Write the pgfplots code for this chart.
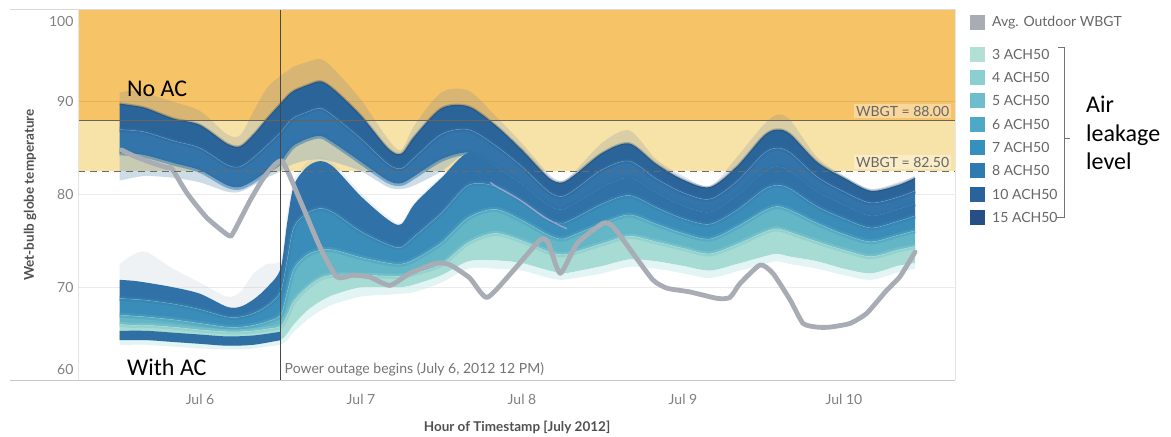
\documentclass[border=0pt]{standalone}
\usepackage{pgfplots}
\pgfplotsset{compat=1.18}
\usepackage{pgfplotstable}
\usepgfplotslibrary{fillbetween}
\usepackage{fontspec}
\setmainfont{Lato}
\newfontfamily\calib{Carlito}

\definecolor{bandorange}{HTML}{F6C367}
\definecolor{bandyellow}{HTML}{F7E2A8}
\definecolor{avggray}{HTML}{A8ACB4}
\definecolor{cA}{HTML}{B3E0D6}
\definecolor{cB}{HTML}{8CCFD0}
\definecolor{cC}{HTML}{6DBDCC}
\definecolor{cD}{HTML}{4EA9C6}
\definecolor{cE}{HTML}{3690BD}
\definecolor{cF}{HTML}{2D7BB0}
\definecolor{cG}{HTML}{2A639C}
\definecolor{cH}{HTML}{254F85}
\definecolor{txtgray}{HTML}{808080}
\definecolor{ttlgray}{HTML}{505050}
\definecolor{nfaint}{HTML}{6F87A0}
\definecolor{ndark}{HTML}{2A6499}
\definecolor{nmed}{HTML}{3374AA}
\definecolor{nlow}{HTML}{7FA9C4}
\definecolor{afaint}{HTML}{A9B6C4}
\definecolor{adark}{HTML}{3072A8}
\definecolor{amed}{HTML}{3A8DB9}
\definecolor{ateal}{HTML}{62B6C6}
\definecolor{alight}{HTML}{A6DCD3}
\definecolor{afringe}{HTML}{CFEDEB}
\definecolor{stripe}{HTML}{2F6FA3}
\definecolor{lav}{HTML}{A4A6D0}
\definecolor{line88}{HTML}{6B6358}

% No AC group (upper ensemble); x = hours since Jul 5, 00:00
\pgfplotstableread{
h t0 t1 m b b0
12 91.0 89.8 87.0 84.5 81.5
14 91.2 89.6 86.9 84.4 81.8
16 90.9 89.3 86.7 84.2 82.0
20 90.0 88.2 85.8 83.4 81.8
24 89.0 87.5 85.0 82.6 81.3
28 86.5 85.5 83.2 81.0 80.3
30 86.4 85.2 83.0 80.8 80.3
32 89.0 86.5 84.0 81.5 81.0
34 91.5 88.2 85.3 82.5 81.8
36 92.8 89.8 86.7 83.5 82.5
37 93.3 90.6 87.6 84.5 83.0
38 93.8 91.2 88.3 85.3 83.3
40 94.3 91.8 88.9 86.0 83.7
42 94.6 92.2 89.3 86.3 83.8
44 93.5 91.3 88.4 85.5 83.5
48 90.2 88.5 86.0 83.5 82.5
52 86.0 85.0 83.3 81.5 80.8
54 84.8 84.4 82.8 81.2 80.6
56 87.5 86.3 84.0 82.0 81.0
60 91.0 89.3 86.5 83.8 82.5
64 91.2 89.5 87.0 84.5 84.5
68 88.5 87.5 85.3 83.1 83.1
72 85.5 84.8 83.0 81.1 81.1
76 82.2 81.8 80.3 78.8 78.8
78 81.5 81.3 79.8 78.4 78.4
80 82.6 82.2 80.6 79.1 79.1
84 85.6 84.5 82.7 80.8 80.8
88 86.9 85.5 83.6 81.8 81.8
92 83.8 83.3 81.7 80.2 80.2
96 82.0 81.6 80.2 78.8 78.8
100 80.9 80.8 79.5 78.1 78.1
104 84.0 83.0 81.4 79.9 79.9
108 87.5 86.3 84.4 82.4 82.4
110 88.6 87.0 85.0 83.0 83.0
112 88.0 86.5 84.5 82.5 82.5
116 84.0 83.5 81.9 80.3 80.3
120 82.0 81.8 80.3 78.9 78.9
124 80.6 80.4 79.1 77.7 77.7
128 81.3 81.0 79.7 78.4 78.4
130.6 82.0 81.8 80.4 79.0 79.0
}\Ntab

% With AC group (lower ensemble)
\pgfplotstableread{
h t0 t1 d m l b b0
12 72.5 70.8 68.8 67.0 66.0 64.3 63.8
14 73.5 70.7 68.7 66.9 65.9 64.3 63.8
16 73.8 70.5 68.6 66.8 65.9 64.3 63.8
20 72.0 70.0 68.2 66.5 65.7 64.1 63.6
24 70.5 69.3 67.6 66.1 65.4 63.9 63.4
28 69.0 67.9 66.8 65.7 65.2 63.7 63.3
30 69.5 67.9 66.8 65.7 65.2 63.7 63.3
32 71.5 68.7 67.2 65.9 65.3 63.8 63.4
34 72.5 70.0 68.0 66.3 65.5 64.1 63.6
36 73.0 72.0 69.5 67.0 65.8 64.3 63.8
37 78.0 77.0 73.0 69.5 67.0 65.0 64.3
38 81.5 81.0 76.5 72.0 68.5 66.0 65.2
40 83.5 83.0 78.0 73.5 70.0 67.5 66.5
42 84.0 83.6 78.5 74.0 71.0 68.5 67.5
44 83.3 82.9 78.0 74.0 71.3 69.2 68.2
48 80.2 79.8 76.0 73.2 71.3 70.0 69.0
52 77.6 77.3 74.6 72.6 71.2 70.0 69.2
54 77.0 76.8 74.3 72.5 71.2 70.0 69.3
56 79.2 79.0 75.5 73.0 71.5 70.3 69.5
60 82.0 81.8 78.0 74.8 72.5 71.3 70.5
64 84.5 84.5 81.0 77.5 74.8 72.8 72.0
68 83.1 83.1 80.9 78.4 75.8 72.9 72.0
72 81.1 81.1 79.3 77.2 75.0 72.6 71.8
76 78.8 78.8 77.3 75.6 73.8 71.8 71.0
78 78.4 78.4 76.9 75.2 73.5 71.5 70.8
80 79.1 79.1 77.5 75.7 73.8 71.7 71.0
84 80.8 80.8 79.0 76.9 74.7 72.3 71.5
88 81.8 81.8 79.9 77.8 75.5 73.0 72.2
92 80.2 80.2 78.6 76.8 74.9 72.8 72.0
96 78.8 78.8 77.4 75.8 74.2 72.3 71.5
100 78.1 78.1 76.8 75.2 73.6 71.8 71.0
104 79.9 79.9 78.3 76.5 74.6 72.5 71.7
108 82.4 82.4 80.5 78.2 75.9 73.3 72.5
110 83.0 83.0 81.0 78.7 76.3 73.6 72.8
112 82.5 82.5 80.6 78.3 75.9 73.3 72.5
116 80.3 80.3 78.7 76.9 74.9 72.8 72.0
120 78.9 78.9 77.4 75.7 74.0 72.0 71.3
124 77.7 77.7 76.4 74.9 73.3 71.5 70.8
128 78.4 78.4 77.1 75.6 74.0 72.3 71.6
130.6 79.0 79.0 77.7 76.1 74.4 72.6 72.0
}\Atab

% dark stripe of the With-AC runs before the outage
\pgfplotstableread{
h top bot
12 65.3 64.3
16 65.3 64.3
20 65.1 64.1
24 64.9 63.9
28 64.7 63.7
32 64.8 63.8
36 65.2 64.3
}\Stab

% Avg. outdoor WBGT
\pgfplotstableread{
h v
12.3 84.8
14.0 84.2
16.5 83.5
19.1 82.9
19.8 82.8
22.1 80.1
25.0 77.5
28.2 75.6
28.9 75.8
31.5 79.4
33.7 82.0
36.2 83.6
38.9 79.4
41.9 74.3
44.4 71.1
46.8 71.3
49.3 71.1
52.3 70.2
55.3 71.5
59.3 72.6
61.3 72.4
64.2 71.0
66.8 68.9
70.7 71.8
74.7 75.1
75.9 74.8
77.7 71.5
80.2 74.7
84.1 76.9
85.6 76.5
88.5 73.7
91.5 70.8
93.6 69.9
97.0 69.5
101.1 68.8
103.0 68.9
104.5 70.4
107.5 72.4
109.4 71.5
112.0 68.6
113.9 66.1
116.0 65.7
117.9 65.7
120.9 66.1
123.4 67.2
126.4 69.7
128.3 71.1
130.6 73.8
}\Avg

\begin{document}
\begin{tikzpicture}
\begin{axis}[
  set layers,
  at={(0pt,0pt)}, anchor=south west,
  scale only axis, width=877pt, height=371pt,
  xmin=5.81, xmax=136.55, ymin=60, ymax=100,
  axis line style={draw=none},
  major tick length=0pt,
  xtick={24,48,72,96,120},
  xticklabels={Jul 6,Jul 7,Jul 8,Jul 9,Jul 10},
  ytick={61.1,70,80,90,98.7},
  yticklabels={60,70,80,90,100},
  ticklabel style={font=\fontsize{14}{16}\selectfont, text=txtgray},
  xticklabel style={yshift=-11pt},
  yticklabel style={xshift=-1pt},
  /pgf/number format/assume math mode=true,
]
% threshold bands (background layer)
\addplot[on layer=axis background, draw=none, fill=bandorange] coordinates {(5.81,88) (136.55,88) (136.55,100) (5.81,100)} -- cycle;
\addplot[on layer=axis background, draw=none, fill=bandyellow] coordinates {(5.81,82.5) (136.55,82.5) (136.55,88) (5.81,88)} -- cycle;
% grid
\addplot[on layer=axis grid, black, opacity=0.08, line width=0.8pt] coordinates {(5.81,70) (136.55,70)};
\addplot[on layer=axis grid, black, opacity=0.08, line width=0.8pt] coordinates {(5.81,80) (136.55,80)};
\addplot[on layer=axis grid, black, opacity=0.08, line width=0.8pt] coordinates {(5.81,90) (136.55,90)};

% No AC ensemble
\addplot[name path=nt0, draw=none, smooth] table[x=h,y=t0]{\Ntab};
\addplot[name path=nt1, draw=none, smooth] table[x=h,y=t1]{\Ntab};
\addplot[name path=nm,  draw=none, smooth] table[x=h,y=m]{\Ntab};
\addplot[name path=nb,  draw=none, smooth] table[x=h,y=b]{\Ntab};
\addplot[name path=nb0, draw=none, smooth] table[x=h,y=b0]{\Ntab};
\addplot[fill=nfaint, fill opacity=0.22, draw=none] fill between[of=nt0 and nt1];
\addplot[fill=ndark, draw=none] fill between[of=nt1 and nm];
\addplot[fill=nmed, draw=none] fill between[of=nm and nb];
\addplot[fill=nlow, fill opacity=0.4, draw=none] fill between[of=nb and nb0];

% With AC ensemble
\addplot[name path=at0, draw=none, smooth] table[x=h,y=t0]{\Atab};
\addplot[name path=at1, draw=none, smooth] table[x=h,y=t1]{\Atab};
\addplot[name path=ad,  draw=none, smooth] table[x=h,y=d]{\Atab};
\addplot[name path=am,  draw=none, smooth] table[x=h,y=m]{\Atab};
\addplot[name path=al,  draw=none, smooth] table[x=h,y=l]{\Atab};
\addplot[name path=ab,  draw=none, smooth] table[x=h,y=b]{\Atab};
\addplot[name path=ab0, draw=none, smooth] table[x=h,y=b0]{\Atab};
\addplot[fill=afaint, fill opacity=0.18, draw=none] fill between[of=at0 and at1];
\addplot[fill=adark, draw=none] fill between[of=at1 and ad];
\addplot[fill=amed, draw=none] fill between[of=ad and am];
\addplot[fill=ateal, draw=none] fill between[of=am and al];
\addplot[fill=alight, draw=none] fill between[of=al and ab];
\addplot[fill=afringe, fill opacity=0.6, draw=none] fill between[of=ab and ab0];
\addplot[name path=st, draw=none, smooth] table[x=h,y=top]{\Stab};
\addplot[name path=sb, draw=none, smooth] table[x=h,y=bot]{\Stab};
\addplot[fill=stripe, draw=none] fill between[of=st and sb];

% soften the boundaries between the colour groups (ensemble texture)
\addplot[ndark!60!black, line width=2.5pt, opacity=0.25, smooth] table[x=h,y=t1]{\Ntab};
\addplot[ndark!50!nmed, line width=5pt, opacity=0.5, smooth] table[x=h,y=m]{\Ntab};
\addplot[nmed!50!adark, line width=5pt, opacity=0.5, smooth] table[x=h,y=b]{\Ntab};
\addplot[adark!50!amed, line width=5pt, opacity=0.5, smooth] table[x=h,y=d]{\Atab};
\addplot[amed!50!ateal, line width=5pt, opacity=0.5, smooth] table[x=h,y=m]{\Atab};
\addplot[ateal!50!alight, line width=5pt, opacity=0.5, smooth] table[x=h,y=l]{\Atab};
\addplot[white, line width=0.5pt, opacity=0.25, smooth] table[x=h,y=m]{\Ntab};
\addplot[white, line width=0.5pt, opacity=0.25, smooth] table[x=h,y=d]{\Atab};
\addplot[white, line width=0.5pt, opacity=0.25, smooth] table[x=h,y=m]{\Atab};
\addplot[white, line width=0.5pt, opacity=0.25, smooth] table[x=h,y=l]{\Atab};

% lavender single run
\addplot[lav, line width=1.3pt, smooth, opacity=0.9] coordinates {(67.3,81.3) (68.3,80.8) (71.7,79.4) (75.4,77.5) (78.7,76.3)};

% average outdoor WBGT
\addplot[avggray, line width=4.8pt, line join=round, line cap=round, smooth, tension=0.35] table[x=h,y=v]{\Avg};

% thresholds and outage line
\addplot[line88, line width=1.4pt] coordinates {(5.81,88) (136.55,88)};
\addplot[black!58, line width=1.3pt, dash pattern=on 7pt off 5pt] coordinates {(5.81,82.5) (136.55,82.5)};
\addplot[black!72, line width=1.5pt] coordinates {(36,60) (36,100)};

% texts inside the plot
\node[anchor=east, inner sep=2pt, fill=white, fill opacity=0.35, text opacity=1, text=black!60, font=\fontsize{14}{16}\selectfont] at (axis cs:136.0,89.0) {WBGT = 88.00};
\node[anchor=east, inner sep=2pt, fill=white, fill opacity=0.35, text opacity=1, text=black!60, font=\fontsize{14}{16}\selectfont] at (axis cs:136.0,83.5) {WBGT = 82.50};
\node[anchor=west, inner sep=0pt, text=black!55, font=\fontsize{14}{16}\selectfont] at (axis cs:36.6,61.1) {Power outage begins (July 6, 2012 12 PM)};
\node[anchor=west, inner sep=0pt, font=\calib\fontsize{24}{28}\selectfont] at (axis cs:13.1,91.4) {No AC};
\node[anchor=west, inner sep=0pt, font=\calib\fontsize{24}{28}\selectfont] at (axis cs:13.1,61.4) {With AC};
\end{axis}

\begin{scope}[x=1pt, y=-1pt, shift={(-78pt,380pt)}]
% frame lines
\draw[black!15, line width=0.8pt] (10,9) -- (955,9);
\draw[black!22, line width=0.8pt] (10,380) -- (955,380);
\draw[black!10, line width=0.8pt] (78,9) -- (78,380);
\draw[black!10, line width=0.8pt] (955,9) -- (955,380);
% axis titles
\node[rotate=90, text=ttlgray, font=\bfseries\fontsize{13.5}{16}\selectfont] at (30,195) {Wet-bulb globe temperature};
\node[text=ttlgray, font=\bfseries\fontsize{13.5}{16}\selectfont] at (517,427) {Hour of Timestamp [July 2012]};
% legend
\fill[avggray] (970,15) rectangle (985,30);
\node[anchor=west, inner sep=0pt, text=black!60, font=\fontsize{14}{16}\selectfont] at (992,22.5) {Avg. Outdoor WBGT};
\fill[cA] (970,47) rectangle (985,62);
\fill[cB] (970,70) rectangle (985,85);
\fill[cC] (970,93) rectangle (985,108);
\fill[cD] (970,117) rectangle (985,132);
\fill[cE] (970,140) rectangle (985,155);
\fill[cF] (970,163) rectangle (985,178);
\fill[cG] (970,187) rectangle (985,202);
\fill[cH] (970,210) rectangle (985,225);
\begin{scope}[every node/.style={anchor=west, inner sep=0pt, text=black!60, font=\fontsize{14}{16}\selectfont}]
\node at (992,54.5) {3 ACH50};
\node at (992,77.5) {4 ACH50};
\node at (992,100.5) {5 ACH50};
\node at (992,124.5) {6 ACH50};
\node at (992,147.5) {7 ACH50};
\node at (992,170.5) {8 ACH50};
\node at (992,194.5) {10 ACH50};
\node at (992,217.5) {15 ACH50};
\end{scope}
\draw[black!55, line width=0.9pt] (1058,47) -- (1064,47) -- (1064,217) -- (1057,217);
\draw[black!55, line width=0.9pt] (1064,138) -- (1070,138);
\node[anchor=west, align=left, inner sep=0pt, font=\calib\fontsize{24}{28.5}\selectfont] at (1086,133) {Air\\leakage\\level};
\path (0,0) rectangle (1171,436);
\end{scope}
\end{tikzpicture}
\end{document}
